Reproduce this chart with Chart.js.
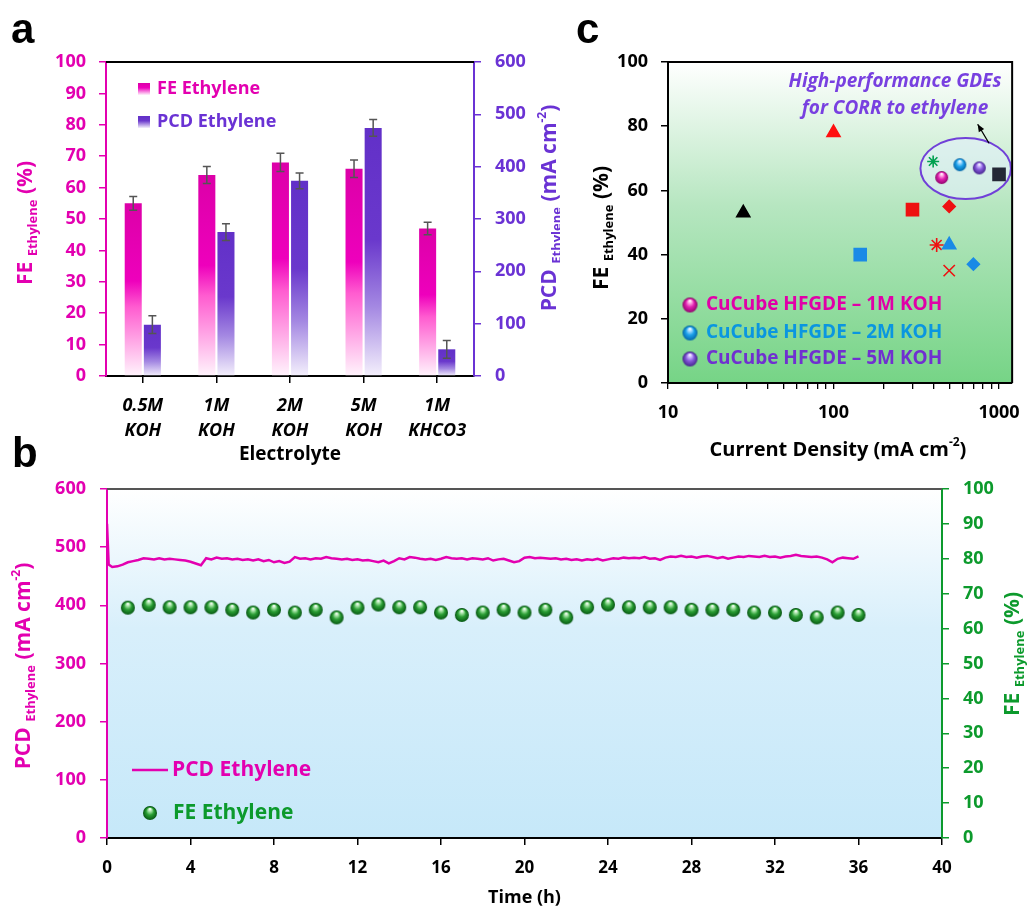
<!DOCTYPE html>
<html>
<head>
<meta charset="utf-8">
<script src="https://cdn.jsdelivr.net/npm/chart.js@4.4.1/dist/chart.umd.min.js"></script>
<style>
  html, body { margin: 0; padding: 0; background: #fff; }
  #fig { position: relative; width: 1033px; height: 916px; overflow: hidden; }
  #fig canvas { position: absolute; }
  .panel { position: absolute; font-family: 'Liberation Sans', Arial, sans-serif; font-weight: bold; font-size: 42px; line-height: 1; color: #000; }
</style>
</head>
<body>
<div id="fig">
  <canvas id="chartA" width="560" height="470" style="left:0;top:0"></canvas>
  <canvas id="chartC" width="473" height="470" style="left:560px;top:0"></canvas>
  <canvas id="chartB" width="1033" height="456" style="left:0;top:460px"></canvas>
  <div class="panel" style="left:11px;top:8px">a</div>
  <div class="panel" style="left:12px;top:432px">b</div>
  <div class="panel" style="left:576px;top:8px">c</div>
</div>
<script>
// ---- panel a: electrolyte comparison ----
const electrolytes = [["0.5M", "KOH"], ["1M", "KOH"], ["2M", "KOH"], ["5M", "KOH"], ["1M", "KHCO3"]];
const feEthylene = [55, 64, 68, 66, 47];
const feError = [2.2, 2.7, 2.9, 2.8, 2.0];
const pcdEthylene = [98, 275, 373, 474, 51];
const pcdError = [17, 16, 15, 16, 17];

// ---- panel b: 36 h stability run ----
const pcdTime = [0, 0.08,
  0.25, 0.5, 0.75, 1, 1.25, 1.5, 1.75, 2,
  2.25, 2.5, 2.75, 3, 3.25, 3.5, 3.75, 4,
  4.25, 4.5, 4.75, 5, 5.25, 5.5, 5.75, 6,
  6.25, 6.5, 6.75, 7, 7.25, 7.5, 7.75, 8,
  8.25, 8.5, 8.75, 9, 9.25, 9.5, 9.75, 10,
  10.25, 10.5, 10.75, 11, 11.25, 11.5, 11.75, 12,
  12.25, 12.5, 12.75, 13, 13.25, 13.5, 13.75, 14,
  14.25, 14.5, 14.75, 15, 15.25, 15.5, 15.75, 16,
  16.25, 16.5, 16.75, 17, 17.25, 17.5, 17.75, 18,
  18.25, 18.5, 18.75, 19, 19.25, 19.5, 19.75, 20,
  20.25, 20.5, 20.75, 21, 21.25, 21.5, 21.75, 22,
  22.25, 22.5, 22.75, 23, 23.25, 23.5, 23.75, 24,
  24.25, 24.5, 24.75, 25, 25.25, 25.5, 25.75, 26,
  26.25, 26.5, 26.75, 27, 27.25, 27.5, 27.75, 28,
  28.25, 28.5, 28.75, 29, 29.25, 29.5, 29.75, 30,
  30.25, 30.5, 30.75, 31, 31.25, 31.5, 31.75, 32,
  32.25, 32.5, 32.75, 33, 33.25, 33.5, 33.75, 34,
  34.25, 34.5, 34.75, 35, 35.25, 35.5, 35.75, 36];
const pcdTrace = [540, 470,
  466, 467, 470, 474, 476, 478, 481, 480,
  479, 481, 479, 480, 479, 478, 477, 475,
  472, 469, 481, 479, 482, 480, 481, 479,
  480, 478, 479, 477, 479, 476, 478, 474,
  476, 473, 475, 483, 480, 481, 479, 481,
  480, 483, 481, 480, 479, 480, 478, 479,
  477, 478, 476, 474, 477, 472, 476, 481,
  479, 483, 482, 480, 479, 480, 478, 480,
  483, 481, 480, 481, 479, 481, 480, 479,
  481, 477, 479, 480, 477, 474, 476, 482,
  483, 481, 482, 481, 480, 481, 479, 480,
  478, 479, 477, 479, 478, 480, 477, 479,
  481, 480, 482, 481, 482, 481, 483, 480,
  481, 478, 482, 484, 483, 485, 483, 484,
  482, 484, 485, 483, 481, 483, 480, 482,
  484, 483, 485, 484, 483, 485, 483, 484,
  482, 484, 485, 487, 485, 484, 483, 484,
  482, 479, 474, 480, 482, 481, 480, 484];
const feTime = [1, 2, 3, 4, 5, 6, 7, 8, 9, 10, 11, 12, 13, 14, 15, 16, 17, 18,
  19, 20, 21, 22, 23, 24, 25, 26, 27, 28, 29, 30, 31, 32, 33, 34, 35, 36];
const feStability = [66.0, 66.8, 66.1, 66.1, 66.1, 65.4, 64.6, 65.4, 64.6, 65.4, 63.2, 66.0,
  66.9, 66.1, 66.1, 64.6, 63.9, 64.6, 65.4, 64.6, 65.4, 63.2, 66.1, 66.9,
  66.1, 66.1, 66.1, 65.4, 65.4, 65.4, 64.6, 64.6, 63.9, 63.2, 64.6, 63.9];

// ---- panel c: literature comparison ----
const litCurrent = [100, 28.5, 300, 145, 500, 420, 500, 500, 700, 400, 1000];
const litFE = [78, 53, 54, 40, 55, 43, 43, 35, 37, 69, 65];
const cubeLabels = ["CuCube HFGDE \u2013 1M KOH", "CuCube HFGDE \u2013 2M KOH", "CuCube HFGDE \u2013 5M KOH"];
const cubeCurrent = [450, 580, 760];
const cubeFE = [64, 68, 67];
const logTicks = [10, 20, 30, 40, 50, 60, 70, 80, 90, 100, 200, 300, 400, 500, 600, 700, 800, 900, 1000];
const gdeRegionX = [335, 1180];
const gdeRegionY = [57.3, 76.3];
const arrowFrom = [870, 74.7];
const arrowTo = [743, 80.6];

// ---- styles ----
const MAGENTA = "#e300b0";
const PURPLE = "#6a32d4";
const GREEN = "#0c9a2c";
const FONT = "'Open Sans', Lato, sans-serif";
const F = (size, style) => `${style || ""} bold ${size}px ${FONT}`;

Chart.defaults.font.family = FONT;
Chart.defaults.font.weight = "bold";

const litStyles = ["triangle", "triangle", "rect", "rect", "rectRot", "star", "triangle", "crossRot", "rectRot", "star", "rect"];
const litColors = ["#ff1010", "#000000", "#ee1111", "#1a8ae6", "#ee1111", "#ee1111", "#1a8ae6", "#ee1111", "#1a8ae6", "#00a050", "#242836"];
const litSizes = [7.5, 7.5, 8.5, 8.5, 6, 7, 7.5, 8, 6, 6, 8.5];

function makeSphere(r, hi, mid, lo) {
  const c = document.createElement("canvas");
  const s = Math.ceil(2 * r + 2);
  c.width = s;
  c.height = s;
  const g = c.getContext("2d");
  const m = s / 2;
  const grad = g.createRadialGradient(m, m - r * 0.6, r * 0.05, m, m + r * 0.1, r * 1.05);
  grad.addColorStop(0, "#ffffff");
  grad.addColorStop(0.22, hi);
  grad.addColorStop(0.5, mid);
  grad.addColorStop(1, lo);
  g.fillStyle = grad;
  g.beginPath();
  g.arc(m, m, r, 0, Math.PI * 2);
  g.fill();
  return c;
}

const greenBall = makeSphere(7, "#9fe0a0", "#2a9e34", "#004a0c");
const cubeBalls = [
  makeSphere(6.5, "#ff9ae0", "#e020b0", "#80005e"),
  makeSphere(6.5, "#9ad8ff", "#1aa0ea", "#005a9a"),
  makeSphere(6.5, "#c8b0ff", "#8458d8", "#3a1a80"),
];
const cubeLegendBalls = [
  makeSphere(7.5, "#ff9ae0", "#e020b0", "#80005e"),
  makeSphere(7.5, "#9ad8ff", "#1aa0ea", "#005a9a"),
  makeSphere(7.5, "#c8b0ff", "#8458d8", "#3a1a80"),
];
const cubeTextColors = ["#e000a8", "#0a96e0", "#7030d0"];

function richText(ctx, parts, x, y, color, rotate) {
  ctx.save();
  ctx.translate(x, y);
  if (rotate) ctx.rotate(-Math.PI / 2);
  ctx.fillStyle = color;
  ctx.textBaseline = "middle";
  ctx.textAlign = "left";
  let w = 0;
  for (const p of parts) { ctx.font = p.font; w += ctx.measureText(p.text).width; }
  let cx = -w / 2;
  for (const p of parts) {
    ctx.font = p.font;
    ctx.fillText(p.text, cx, p.dy || 0);
    cx += ctx.measureText(p.text).width;
  }
  ctx.restore();
}

function label(ctx, text, x, y, font, color, align) {
  ctx.save();
  ctx.font = font;
  ctx.fillStyle = color;
  ctx.textAlign = align || "left";
  ctx.textBaseline = "middle";
  ctx.fillText(text, x, y);
  ctx.restore();
}

const feTitle = [
  { text: "FE ", font: F(21) },
  { text: "Ethylene", font: F(13), dy: 7 },
  { text: " (%)", font: F(21) },
];
const pcdTitle = [
  { text: "PCD ", font: F(21) },
  { text: "Ethylene", font: F(13), dy: 7 },
  { text: " (mA cm", font: F(21) },
  { text: "-2", font: F(12), dy: -7 },
  { text: ")", font: F(21) },
];

function barFill(stops) {
  return (context) => {
    const chart = context.chart;
    if (!chart.chartArea || context.type !== "data") return stops[0][1];
    const scale = chart.scales[context.dataset.yAxisID];
    const yTop = scale.getPixelForValue(context.raw);
    const yBase = scale.getPixelForValue(0);
    const g = chart.ctx.createLinearGradient(0, yTop, 0, yBase);
    stops.forEach(([o, c]) => g.addColorStop(o, c));
    return g;
  };
}
const feStops = [[0, "#dc00a8"], [0.45, "#ee00bc"], [0.6, "#ff5cd0"], [1, "#fff4fc"]];
const pcdStops = [[0, "#6230c8"], [0.45, "#6a38cc"], [0.72, "#a488e2"], [1, "#f4f0fc"]];

function axisOpts(color, extra) {
  return Object.assign({
    grid: { display: true, drawOnChartArea: false, drawTicks: true, tickLength: 7, color: color, lineWidth: 1.5 },
    border: { display: true, color: color, width: 2 },
  }, extra);
}

// ---------------- chart a ----------------
const panelAPlugin = {
  id: "panelA",
  afterDatasetsDraw(chart) {
    const ctx = chart.ctx;
    [feError, pcdError].forEach((errs, i) => {
      const meta = chart.getDatasetMeta(i);
      const scale = chart.scales[meta.yAxisID];
      const vals = chart.data.datasets[i].data;
      meta.data.forEach((bar, j) => {
        const hi = scale.getPixelForValue(vals[j] + errs[j]);
        const lo = scale.getPixelForValue(vals[j] - errs[j]);
        ctx.save();
        ctx.strokeStyle = "#555";
        ctx.lineWidth = 1.5;
        ctx.beginPath();
        ctx.moveTo(bar.x, hi); ctx.lineTo(bar.x, lo);
        ctx.moveTo(bar.x - 4, hi); ctx.lineTo(bar.x + 4, hi);
        ctx.moveTo(bar.x - 4, lo); ctx.lineTo(bar.x + 4, lo);
        ctx.stroke();
        ctx.restore();
      });
    });
  },
  afterDraw(chart) {
    const ctx = chart.ctx;
    const ca = chart.chartArea;
    ctx.save();
    ctx.strokeStyle = "#000";
    ctx.lineWidth = 2;
    ctx.beginPath();
    ctx.moveTo(ca.left, ca.top);
    ctx.lineTo(ca.right, ca.top);
    ctx.stroke();
    ctx.restore();
    // legend
    [[feStops, MAGENTA], [pcdStops, PURPLE]].forEach(([stops, col], i) => {
      const y = ca.top + 27 + i * 33;
      const g = ctx.createLinearGradient(0, y - 6, 0, y + 6);
      g.addColorStop(0, stops[0][1]);
      g.addColorStop(0.4, stops[1][1]);
      g.addColorStop(1, stops[3][1]);
      ctx.fillStyle = g;
      ctx.fillRect(ca.left + 32, y - 6, 12, 12);
      label(ctx, chart.data.datasets[i].label, ca.left + 51, y, F(18), col);
    });
    richText(ctx, feTitle, 26, 223, MAGENTA, true);
    richText(ctx, pcdTitle, 550, 208, PURPLE, true);
    label(ctx, "Electrolyte", (ca.left + ca.right) / 2, 455, F(19), "#000", "center");
  },
};

new Chart(document.getElementById("chartA"), {
  type: "bar",
  data: {
    labels: electrolytes,
    datasets: [
      { label: "FE Ethylene", data: feEthylene, yAxisID: "yFE", backgroundColor: barFill(feStops), borderWidth: 0 },
      { label: "PCD Ethylene", data: pcdEthylene, yAxisID: "yPCD", backgroundColor: barFill(pcdStops), borderWidth: 0 },
    ],
  },
  options: {
    responsive: false,
    animation: false,
    categoryPercentage: 0.52,
    barPercentage: 0.89,
    layout: { padding: { top: 62, left: 0, right: 0, bottom: 0 } },
    plugins: { legend: { display: false }, tooltip: { enabled: false } },
    scales: {
      x: axisOpts("#000", {
        grid: { display: true, drawOnChartArea: false, offset: false, tickLength: 7, color: "#000", lineWidth: 1.5 },
        ticks: { color: "#000", font: { size: 18, style: "italic", weight: "bold", lineHeight: 1.37 }, padding: 11, maxRotation: 0, autoSkip: false },
        afterFit: (s) => { s.height = 94; },
      }),
      yFE: axisOpts(MAGENTA, {
        position: "left", min: 0, max: 100,
        ticks: { stepSize: 10, color: MAGENTA, font: { size: 18 }, padding: 13 },
        afterFit: (s) => { s.width = 106; },
      }),
      yPCD: axisOpts(PURPLE, {
        position: "right", min: 0, max: 600,
        ticks: { stepSize: 100, color: PURPLE, font: { size: 18 }, padding: 14 },
        afterFit: (s) => { s.width = 86; },
      }),
    },
  },
  plugins: [panelAPlugin],
});

// ---------------- chart b ----------------
const panelBPlugin = {
  id: "panelB",
  beforeDraw(chart) {
    const ctx = chart.ctx;
    const ca = chart.chartArea;
    const g = ctx.createLinearGradient(0, ca.top, 0, ca.bottom);
    g.addColorStop(0, "#ffffff");
    g.addColorStop(0.4, "#d8effb");
    g.addColorStop(1, "#c6e8f9");
    ctx.save();
    ctx.fillStyle = g;
    ctx.fillRect(ca.left, ca.top, ca.right - ca.left, ca.bottom - ca.top);
    ctx.restore();
  },
  afterDraw(chart) {
    const ctx = chart.ctx;
    const ca = chart.chartArea;
    ctx.save();
    ctx.strokeStyle = "#555";
    ctx.lineWidth = 2;
    ctx.beginPath();
    ctx.moveTo(ca.left, ca.top);
    ctx.lineTo(ca.right, ca.top);
    ctx.stroke();
    // legend
    ctx.strokeStyle = MAGENTA;
    ctx.lineWidth = 2.5;
    ctx.beginPath();
    ctx.moveTo(ca.left + 25, ca.bottom - 68);
    ctx.lineTo(ca.left + 61, ca.bottom - 68);
    ctx.stroke();
    ctx.drawImage(greenBall, ca.left + 43 - greenBall.width / 2, ca.bottom - 25 - greenBall.height / 2);
    ctx.restore();
    label(ctx, chart.data.datasets[0].label, ca.left + 65, ca.bottom - 68, F(21), MAGENTA);
    label(ctx, chart.data.datasets[1].label, ca.left + 66, ca.bottom - 25, F(21), GREEN);
    richText(ctx, pcdTitle, 24, 206, MAGENTA, true);
    richText(ctx, feTitle, 1013, 194, GREEN, true);
    label(ctx, "Time (h)", (ca.left + ca.right) / 2, 438, F(18), "#000", "center");
  },
};

new Chart(document.getElementById("chartB"), {
  type: "scatter",
  data: {
    datasets: [
      {
        label: "PCD Ethylene", yAxisID: "y",
        data: pcdTime.map((t, i) => ({ x: t, y: pcdTrace[i] })),
        showLine: true, borderColor: MAGENTA, borderWidth: 2.5, pointRadius: 0, tension: 0,
      },
      {
        label: "FE Ethylene", yAxisID: "y2",
        data: feTime.map((t, i) => ({ x: t, y: feStability[i] })),
        pointStyle: greenBall, pointRadius: 7,
      },
    ],
  },
  options: {
    responsive: false,
    animation: false,
    layout: { padding: { top: 29, left: 0, right: 0, bottom: 0 } },
    plugins: { legend: { display: false }, tooltip: { enabled: false } },
    scales: {
      x: axisOpts("#000", {
        type: "linear", min: 0, max: 40,
        ticks: { stepSize: 4, color: "#000", font: { size: 17 }, padding: 13 },
        afterFit: (s) => { s.height = 78; },
      }),
      y: axisOpts(MAGENTA, {
        position: "left", min: 0, max: 600,
        ticks: { stepSize: 100, color: MAGENTA, font: { size: 18 }, padding: 14 },
        afterFit: (s) => { s.width = 107; },
      }),
      y2: axisOpts(GREEN, {
        position: "right", min: 0, max: 100,
        ticks: { stepSize: 10, color: GREEN, font: { size: 18 }, padding: 14 },
        afterFit: (s) => { s.width = 91; },
      }),
    },
  },
  plugins: [panelBPlugin],
});

// ---------------- chart c ----------------
const panelCPlugin = {
  id: "panelC",
  beforeDraw(chart) {
    const ctx = chart.ctx;
    const ca = chart.chartArea;
    const g = ctx.createLinearGradient(0, ca.top, 0, ca.bottom);
    g.addColorStop(0, "#ffffff");
    g.addColorStop(0.45, "#b6e6c0");
    g.addColorStop(1, "#76d486");
    ctx.save();
    ctx.fillStyle = g;
    ctx.fillRect(ca.left, ca.top, ca.right - ca.left, ca.bottom - ca.top);
    ctx.restore();
  },
  beforeDatasetsDraw(chart) {
    const ctx = chart.ctx;
    const xs = chart.scales.x;
    const ys = chart.scales.y;
    const x0 = xs.getPixelForValue(gdeRegionX[0]);
    const x1 = xs.getPixelForValue(gdeRegionX[1]);
    const y0 = ys.getPixelForValue(gdeRegionY[0]);
    const y1 = ys.getPixelForValue(gdeRegionY[1]);
    ctx.save();
    ctx.beginPath();
    ctx.ellipse((x0 + x1) / 2, (y0 + y1) / 2, (x1 - x0) / 2, (y0 - y1) / 2, 0, 0, Math.PI * 2);
    ctx.fillStyle = "rgba(225, 240, 250, 0.6)";
    ctx.fill();
    ctx.strokeStyle = "#7040d8";
    ctx.lineWidth = 2;
    ctx.stroke();
    // arrow
    const ax = xs.getPixelForValue(arrowFrom[0]);
    const ay = ys.getPixelForValue(arrowFrom[1]);
    const bx = xs.getPixelForValue(arrowTo[0]);
    const by = ys.getPixelForValue(arrowTo[1]);
    const ang = Math.atan2(by - ay, bx - ax);
    ctx.strokeStyle = "#000";
    ctx.fillStyle = "#000";
    ctx.lineWidth = 1.3;
    ctx.beginPath();
    ctx.moveTo(ax, ay);
    ctx.lineTo(bx, by);
    ctx.stroke();
    ctx.beginPath();
    ctx.moveTo(bx, by);
    ctx.lineTo(bx - 8 * Math.cos(ang - 0.4), by - 8 * Math.sin(ang - 0.4));
    ctx.lineTo(bx - 8 * Math.cos(ang + 0.4), by - 8 * Math.sin(ang + 0.4));
    ctx.closePath();
    ctx.fill();
    ctx.restore();
  },
  afterDraw(chart) {
    const ctx = chart.ctx;
    const ca = chart.chartArea;
    ctx.save();
    ctx.strokeStyle = "#000";
    ctx.lineWidth = 2;
    ctx.beginPath();
    ctx.moveTo(ca.left, ca.top);
    ctx.lineTo(ca.right, ca.top);
    ctx.lineTo(ca.right, ca.bottom);
    ctx.stroke();
    ctx.restore();
    label(ctx, "High-performance GDEs", ca.left + 227, ca.top + 20, F(19, "italic"), "#7840e0", "center");
    label(ctx, "for CORR to ethylene", ca.left + 227, ca.top + 47, F(19, "italic"), "#7840e0", "center");
    [-78, -50, -24].forEach((dy, i) => {
      const b = cubeLegendBalls[i];
      ctx.drawImage(b, ca.left + 22 - b.width / 2, ca.bottom + dy - b.height / 2);
      label(ctx, cubeLabels[i], ca.left + 38, ca.bottom + dy, F(19), cubeTextColors[i]);
    });
    richText(ctx, feTitle, 42, 228, "#000", true);
    richText(ctx, [
      { text: "Current Density (mA cm", font: F(20) },
      { text: "-2", font: F(12), dy: -7 },
      { text: ")", font: F(20) },
    ], 278, 450, "#000", false);
  },
};

new Chart(document.getElementById("chartC"), {
  type: "scatter",
  data: {
    datasets: [
      ...cubeLabels.map((name, i) => ({
        label: name,
        data: [{ x: cubeCurrent[i], y: cubeFE[i] }],
        pointStyle: cubeBalls[i], pointRadius: 7,
      })),
      {
        label: "Reported GDEs",
        data: litCurrent.map((x, i) => ({ x: x, y: litFE[i] })),
        pointStyle: litStyles, pointRadius: litSizes,
        pointBackgroundColor: litColors, pointBorderColor: litColors, pointBorderWidth: 1.6,
      },
    ],
  },
  options: {
    responsive: false,
    animation: false,
    layout: { padding: { top: 62, left: 0, right: 9, bottom: 0 } },
    plugins: { legend: { display: false }, tooltip: { enabled: false } },
    scales: {
      x: axisOpts("#000", {
        type: "logarithmic", min: 10, max: 1200,
        afterBuildTicks: (s) => { s.ticks = logTicks.map((v) => ({ value: v })); },
        grid: { display: true, drawOnChartArea: false, tickLength: 6, color: "#000", lineWidth: 1.3 },
        ticks: {
          autoSkip: false, maxRotation: 0, color: "#000", font: { size: 18 }, padding: 13,
          callback: (v) => (v === 10 || v === 100 || v === 1000 ? String(v) : ""),
        },
        afterFit: (s) => { s.height = 87; },
      }),
      y: axisOpts("#000", {
        min: 0, max: 100,
        ticks: { stepSize: 20, color: "#000", font: { size: 18 }, padding: 13 },
        afterFit: (s) => { s.width = 108; },
      }),
    },
  },
  plugins: [panelCPlugin],
});
</script>
</body>
</html>
